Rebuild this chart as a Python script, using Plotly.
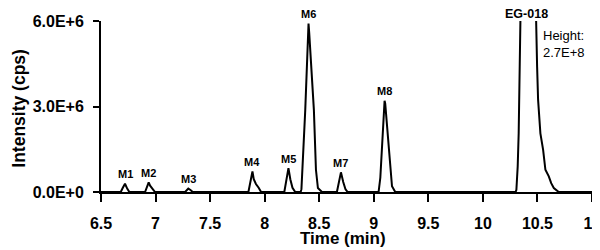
import numpy as np
import plotly.graph_objects as go

# Chromatogram: time (min) and intensity (cps)
time_min = [
    6.50,
    6.681, 6.70, 6.72, 6.74, 6.76,
    6.904, 6.92, 6.937, 6.95, 6.965, 6.98, 6.995,
    7.271, 7.29, 7.30, 7.32, 7.341,
    7.851, 7.87, 7.888, 7.90, 7.92, 7.945, 7.967,
    8.18, 8.20, 8.218, 8.235, 8.255, 8.28,
    8.33, 8.337, 8.372, 8.402, 8.408, 8.451, 8.47, 8.488, 8.525,
    8.662, 8.68, 8.699, 8.72, 8.74, 8.76,
    9.044, 9.06, 9.075, 9.099, 9.105, 9.135, 9.155, 9.167, 9.197,
    10.30, 10.307, 10.319, 10.328, 10.338, 10.344, 10.416, 10.488, 10.497,
    10.506, 10.527, 10.552, 10.573, 10.604, 10.626, 10.650, 10.695,
    11.0,
]
intensity_cps = [
    0,
    0, 0.15e6, 0.29e6, 0.12e6, 0,
    0, 0.18e6, 0.34e6, 0.22e6, 0.14e6, 0.06e6, 0,
    0, 0.10e6, 0.12e6, 0.07e6, 0,
    0, 0.45e6, 0.72e6, 0.45e6, 0.28e6, 0.15e6, 0,
    0, 0.45e6, 0.84e6, 0.45e6, 0.15e6, 0,
    0, 0.10e6, 2.88e6, 5.91e6, 5.60e6, 2.88e6, 0.78e6, 0.14e6, 0,
    0, 0.35e6, 0.69e6, 0.35e6, 0.10e6, 0,
    0, 0.50e6, 1.60e6, 3.20e6, 3.10e6, 1.60e6, 0.50e6, 0.20e6, 0,
    0, 0.08e6, 0.90e6, 2.06e6, 4.39e6, 6.03e6, 2.7e8, 6.00e6, 4.39e6,
    3.23e6, 2.06e6, 1.48e6, 0.78e6, 0.55e6, 0.31e6, 0.14e6, 0,
    0,
]

# Peak labels
peak_labels = ["M1", "M2", "M3", "M4", "M5", "M6", "M7", "M8"]
peak_times = [6.72, 6.937, 7.30, 7.888, 8.218, 8.402, 8.699, 9.099]
main_label = "EG-018"
main_time = 10.40
height_note = "Height:<br>2.7E+8"
height_note_pos = [10.543, 5.19e6]

# Axis ticks and titles
x_tickvals = [6.5, 7, 7.5, 8, 8.5, 9, 9.5, 10, 10.5, 11]
x_ticktext = ["6.5", "7", "7.5", "8", "8.5", "9", "9.5", "10", "10.5", "11"]
y_tickvals = [0, 3e6, 6e6]
y_ticktext = ["0.0E+0", "3.0E+6", "6.0E+6"]
x_title = "Time (min)"
y_title = "Intensity (cps)"

FONT = "Liberation Sans, Arial, sans-serif"

t_arr = np.array(time_min)
i_arr = np.array(intensity_cps)

fig = go.Figure()
fig.add_trace(go.Scatter(
    x=time_min, y=intensity_cps, mode="lines",
    line=dict(color="black", width=2), hoverinfo="skip", showlegend=False,
))

annotations = []
for lab, t in zip(peak_labels, peak_times):
    win = (t_arr > t - 0.03) & (t_arr < t + 0.03)
    apex = i_arr[win].max()
    annotations.append(dict(
        x=t, y=apex, xref="x", yref="y", text="<b>%s</b>" % lab,
        showarrow=False, yanchor="middle", yshift=9.5,
        font=dict(family=FONT, size=11, color="black"),
    ))
annotations.append(dict(
    x=main_time, y=1, xref="x", yref="paper", text="<b>%s</b>" % main_label,
    showarrow=False, yanchor="middle", yshift=7.5,
    font=dict(family=FONT, size=12.5, color="black"),
))
annotations.append(dict(
    x=height_note_pos[0], y=height_note_pos[1], xref="x", yref="y",
    text=height_note, showarrow=False, xanchor="left", yanchor="middle",
    align="left", xshift=-1,
    font=dict(family=FONT, size=13, color="black"),
))
# axis titles
annotations.append(dict(
    x=0.5, y=0, xref="paper", yref="paper", text="<b>%s</b>" % x_title,
    showarrow=False, xanchor="center", yanchor="middle", xshift=-3.5, yshift=-46.5,
    font=dict(family=FONT, size=17, color="black"),
))
annotations.append(dict(
    x=0, y=0.5, xref="paper", yref="paper", text="<b>%s</b>" % y_title,
    showarrow=False, xanchor="center", yanchor="middle", xshift=-82.3, yshift=-1.5,
    textangle=-90, font=dict(family=FONT, size=17.5, color="black"),
))

# The page body adds an 8 px offset, so the figure is drawn 8 px smaller
fig.update_layout(
    width=592, height=242,
    margin=dict(l=93, r=8, t=13, b=58, pad=0, autoexpand=False),
    paper_bgcolor="white", plot_bgcolor="white",
    font=dict(family=FONT, color="black"),
    annotations=annotations,
    xaxis=dict(
        range=[6.5, 11], tickvals=x_tickvals, ticktext=x_ticktext,
        showgrid=False, zeroline=False, showline=True, linecolor="black",
        linewidth=2, ticks="outside", ticklen=8, tickwidth=2, tickcolor="black",
        tickfont=dict(family=FONT, size=16, color="black", weight="bold"),
        ticklabelstandoff=8, automargin=False, ticklabeloverflow="allow",
    ),
    yaxis=dict(
        range=[0, 6e6], tickvals=y_tickvals, ticktext=y_ticktext,
        showgrid=False, zeroline=False, showline=True, linecolor="black",
        linewidth=2, ticks="outside", ticklen=6, tickwidth=2, tickcolor="black",
        tickfont=dict(family=FONT, size=16, color="black", weight="bold"),
        ticklabelstandoff=6, automargin=False, ticklabeloverflow="allow",
    ),
)

fig.write_html("out.html")
